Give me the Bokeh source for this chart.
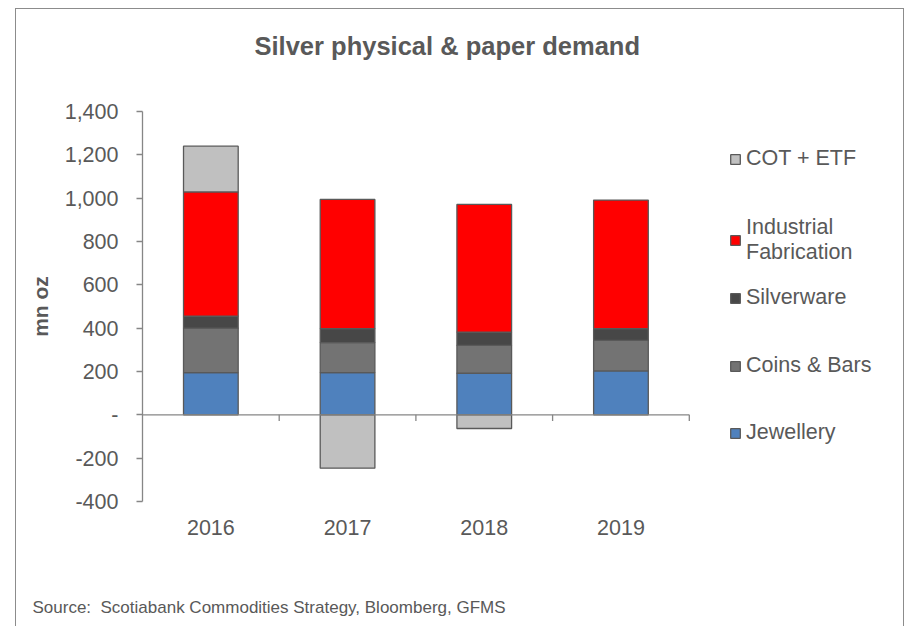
from bokeh.plotting import figure
from bokeh.models import (Range1d, FixedTicker, NumeralTickFormatter, Title,
                          Legend, LegendItem, ColumnDataSource)
from bokeh.embed import file_html
from bokeh.resources import INLINE

# ---- data (mn oz) ----
years = ["2016", "2017", "2018", "2019"]
jewellery = [195, 195, 192, 203]
coins_bars = [205, 138, 129, 141]
silverware = [56, 65, 61, 54]
industrial = [573, 596, 589, 593]
cot_etf = [211, -246, -63, 0]

series_names = ["Jewellery", "Coins & Bars", "Silverware", "Industrial Fabrication", "COT + ETF"]
series_colors = ["#4F81BD", "#737373", "#474747", "#FF0000", "#C0C0C0"]
y_ticks = [-400, -200, 0, 200, 400, 600, 800, 1000, 1200, 1400]

title_text = "Silver physical & paper demand"
y_label = "mn oz"
source_text = "Source:\u00a0 Scotiabank Commodities Strategy, Bloomberg, GFMS"

FONT = "Liberation Sans"
TXT = "#595959"
AX = "#868686"
FS = "21.5px"

n = len(years)
xc = [i + 0.5 for i in range(n)]          # category centres
bounds = [i + 1 for i in range(n)]        # category right boundaries

p = figure(x_range=Range1d(0, 5.545), y_range=Range1d(-400, 1400),
           width=889, height=618, output_backend="svg", toolbar_location=None,
           min_border_left=126, min_border_right=5, min_border_top=102, min_border_bottom=126)
p.styles = {"margin-left": "15px", "margin-top": "8px",
            "border-left": "1px solid #8c8c8c", "border-top": "1px solid #8c8c8c",
            "border-right": "1px solid #8c8c8c"}
p.outline_line_color = None
p.xgrid.grid_line_color = None
p.ygrid.grid_line_color = None

# stacked bars: positive series stacked from 0, COT+ETF on top if positive, below 0 if negative
positive = [jewellery, coins_bars, silverware, industrial]
base = [0.0] * n
renderers = []
for vals, name, col in zip(positive, series_names[:4], series_colors[:4]):
    top = [b + v for b, v in zip(base, vals)]
    src = ColumnDataSource(dict(x=xc, bottom=base, top=top))
    r = p.vbar(x="x", bottom="bottom", top="top", width=0.4, source=src,
               fill_color=col, line_color="#595959", line_width=1.3)
    renderers.append(r)
    base = top
cot_bottom = [b if v >= 0 else 0 for b, v in zip(base, cot_etf)]
cot_top = [b + v if v >= 0 else v for b, v in zip(base, cot_etf)]
keep = [i for i, v in enumerate(cot_etf) if v != 0]
src = ColumnDataSource(dict(x=[xc[i] for i in keep], bottom=[cot_bottom[i] for i in keep],
                            top=[cot_top[i] for i in keep]))
r = p.vbar(x="x", bottom="bottom", top="top", width=0.4, source=src,
           fill_color=series_colors[4], line_color="#595959", line_width=1.3)
renderers.append(r)

# zero line across the categories and boundary ticks below it
p.segment(x0=0, y0=0, x1=n, y1=0, line_color=AX, line_width=1.3)
p.segment(x0=bounds, y0=[0] * n, x1=bounds, y1=[-28] * n, line_color=AX, line_width=1.3)

# axes
ya = p.yaxis[0]
ya.ticker = FixedTicker(ticks=y_ticks)
ya.formatter = NumeralTickFormatter(format="0,0")
ya.major_label_overrides = {0: "-"}
ya.axis_line_color = AX
ya.axis_line_width = 1.3
ya.major_tick_line_color = AX
ya.major_tick_line_width = 1.3
ya.major_tick_out = 6
ya.major_tick_in = 0
ya.minor_tick_line_color = None
ya.major_label_text_font = FONT
ya.major_label_text_font_size = FS
ya.major_label_text_color = TXT
ya.major_label_standoff = 18
ya.axis_label = y_label
ya.axis_label_text_font = FONT
ya.axis_label_text_font_size = "21px"
ya.axis_label_text_font_style = "bold"
ya.axis_label_text_color = TXT
ya.axis_label_standoff = 10

xa = p.xaxis[0]
xa.ticker = FixedTicker(ticks=xc)
xa.major_label_overrides = {x: y for x, y in zip(xc, years)}
xa.axis_line_color = None
xa.major_tick_line_color = None
xa.minor_tick_line_color = None
xa.major_label_text_font = FONT
xa.major_label_text_font_size = FS
xa.major_label_text_color = TXT
xa.major_label_standoff = 12

# title (outermost above) with a blank spacer between it and the plot area
p.add_layout(Title(text=" ", standoff=19, text_font_size="10px"), "above")
p.title = Title(text=title_text, align="left", offset=112, standoff=40,
                text_font=FONT, text_font_size="25.5px", text_font_style="bold",
                text_color=TXT)
# source note below, after a blank spacer
p.add_layout(Title(text=" ", standoff=36, text_font_size="10px"), "below")
p.add_layout(Title(text=source_text, align="left", offset=-110, standoff=18,
                   text_font=FONT, text_font_size="17px", text_font_style="normal",
                   text_color=TXT), "below")

# legend: separate entries, top to bottom
legend_order = [4, 3, 2, 1, 0]
legend_centers = [159, 240, 298, 366, 433]
legend_half = [12, 25, 12, 12, 12]
labels = dict(zip(range(5), series_names))
labels[3] = "Industrial\nFabrication"
for idx, c, hh in zip(legend_order, legend_centers, legend_half):
    lg = Legend(items=[LegendItem(label=labels[idx], renderers=[renderers[idx]])],
                location=(587, 501 - c - hh), padding=0, margin=0, spacing=0,
                glyph_width=12, glyph_height=12, label_height=12, label_standoff=5,
                label_text_font=FONT, label_text_font_size=FS, label_text_color=TXT,
                border_line_color=None, background_fill_alpha=0)
    p.add_layout(lg, "center")

open("out.html", "w").write(file_html(p, INLINE))
